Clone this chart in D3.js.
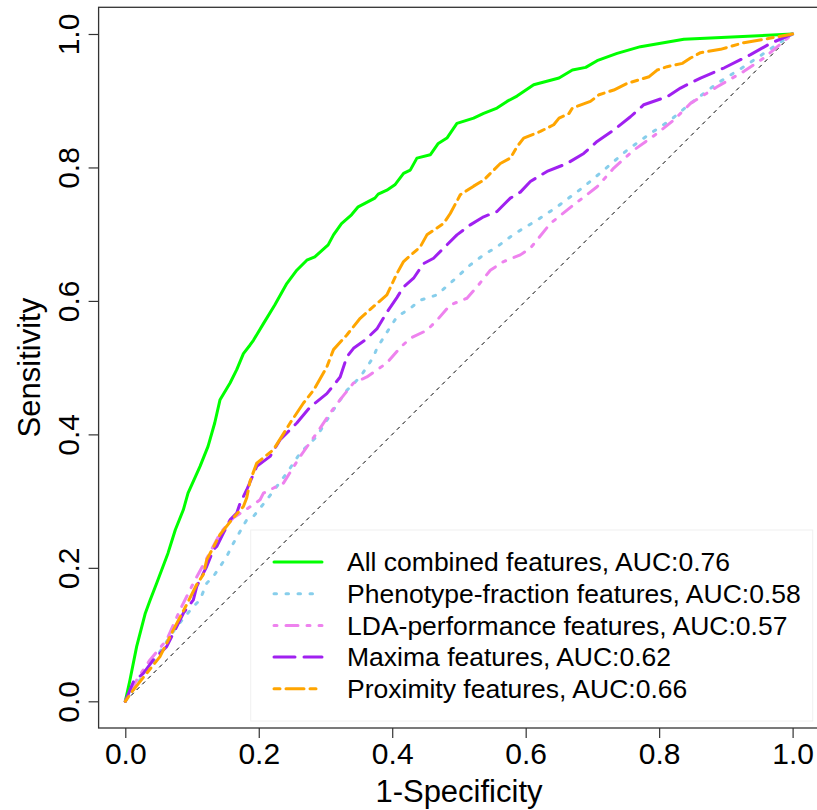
<!DOCTYPE html>
<html>
  <head>
    <meta charset="utf-8" />
    <title>ROC curves</title>
    <script src="https://d3js.org/d3.v7.min.js"></script>
    <style>
        body { margin:0; background:white; }
        text { font-family: "Liberation Sans", Arial, Helvetica, sans-serif; fill:black; }
    </style>
  </head>
  <body>
    <svg id="viz"></svg>

    <script>
    // legend labels
    var labels = [
      "All combined features, AUC:0.76",
      "Phenotype-fraction features, AUC:0.58",
      "LDA-performance features, AUC:0.57",
      "Maxima features, AUC:0.62",
      "Proximity features, AUC:0.66"
    ];

    // [1-specificity, sensitivity]
    var allCombined = [[0,0],[.007,.032],[.017,.082],[.030,.132],[.037,.151],[.047,.177],[.064,.222],[.075,.257],[.087,.287],[.094,.312],[.112,.352],[.124,.382],[.134,.417],[.142,.452],[.157,.477],[.167,.497],[.177,.521],[.187,.534],[.192,.541],[.207,.566],[.224,.594],[.242,.626],[.257,.646],[.272,.661],[.284,.666],[.304,.684],[.312,.699],[.324,.716],[.339,.729],[.349,.741],[.374,.754],[.379,.760],[.392,.766],[.404,.774],[.417,.791],[.427,.796],[.437,.814],[.457,.819],[.469,.836],[.482,.844],[.497,.866],[.522,.874],[.537,.881],[.557,.889],[.572,.899],[.587,.907],[.612,.924],[.650,.934],[.670,.946],[.690,.950],[.707,.960],[.737,.971],[.772,.981],[.837,.992],[1,1]];

    var phenotype = [[0,0],[.022,.032],[.047,.067],[.077,.112],[.102,.142],[.112,.152],[.122,.177],[.132,.187],[.152,.217],[.162,.237],[.182,.272],[.192,.277],[.212,.302],[.242,.342],[.262,.372],[.287,.397],[.312,.437],[.332,.466],[.352,.486],[.372,.516],[.377,.529],[.392,.553],[.407,.576],[.427,.589],[.442,.601],[.467,.609],[.492,.631],[.517,.654],[.537,.669],[.557,.681],[.577,.696],[.592,.706],[.617,.721],[.647,.741],[.687,.771],[.717,.796],[.752,.826],[.787,.851],[.817,.871],[.847,.896],[.887,.926],[.927,.951],[.957,.971],[1,1]];

    var ldaPerf = [[0,0],[.017,.032],[.037,.062],[.062,.092],[.082,.137],[.102,.177],[.122,.214],[.137,.242],[.142,.252],[.162,.275],[.182,.288],[.202,.302],[.207,.312],[.237,.327],[.262,.367],[.287,.402],[.307,.432],[.322,.452],[.342,.477],[.362,.486],[.392,.507],[.412,.530],[.427,.544],[.452,.556],[.467,.571],[.487,.594],[.512,.604],[.527,.621],[.547,.646],[.567,.659],[.592,.669],[.607,.679],[.637,.716],[.672,.744],[.707,.771],[.732,.799],[.762,.826],[.797,.851],[.822,.871],[.847,.896],[.887,.921],[.927,.944],[.957,.964],[1,1]];

    var maxima = [[0,0],[.012,.029],[.027,.042],[.042,.062],[.062,.082],[.072,.102],[.087,.132],[.102,.152],[.107,.172],[.117,.192],[.122,.202],[.132,.227],[.137,.232],[.147,.252],[.157,.272],[.167,.282],[.172,.297],[.182,.317],[.197,.352],[.217,.367],[.232,.392],[.257,.417],[.277,.441],[.302,.461],[.322,.486],[.332,.516],[.342,.529],[.359,.541],[.377,.558],[.392,.583],[.407,.605],[.417,.621],[.432,.634],[.447,.656],[.462,.664],[.477,.679],[.497,.699],[.517,.714],[.537,.726],[.557,.734],[.577,.754],[.592,.763],[.607,.779],[.632,.794],[.662,.806],[.687,.821],[.707,.839],[.732,.856],[.757,.876],[.777,.894],[.812,.906],[.832,.919],[.862,.934],[.897,.949],[.937,.969],[.967,.986],[1,1]];

    var proximity = [[0,0],[.012,.017],[.032,.042],[.052,.067],[.072,.107],[.092,.145],[.107,.175],[.117,.190],[.122,.212],[.142,.250],[.162,.275],[.177,.292],[.182,.305],[.187,.330],[.197,.357],[.222,.377],[.247,.417],[.267,.447],[.282,.466],[.302,.501],[.312,.527],[.332,.549],[.352,.574],[.377,.596],[.392,.609],[.407,.641],[.417,.659],[.442,.681],[.452,.699],[.477,.716],[.487,.731],[.502,.759],[.522,.772],[.537,.781],[.547,.791],[.562,.806],[.577,.814],[.587,.831],[.597,.844],[.622,.854],[.642,.864],[.650,.874],[.665,.881],[.670,.889],[.697,.899],[.710,.909],[.732,.916],[.752,.926],[.785,.936],[.797,.946],[.812,.951],[.835,.956],[.847,.964],[.862,.972],[.892,.977],[.927,.987],[.962,.993],[1,1]];

    var ticks = [0, 0.2, 0.4, 0.6, 0.8, 1.0];

    var series = [
      {name: labels[0], values: allCombined, color: "#00ff00", dash: null},
      {name: labels[1], values: phenotype, color: "#87ceeb", dash: "2.5,9.5"},
      {name: labels[2], values: ldaPerf, color: "#ee82ee", dash: "3,9,12,9"},
      {name: labels[3], values: maxima, color: "#a020f0", dash: "21,9"},
      {name: labels[4], values: proximity, color: "#ffa500", dash: "6,6,18,6"}
    ];

    var width = 817, height = 810;

    var svg = d3.select("#viz")
      .attr("width", width)
      .attr("height", height);

    svg.append("rect").attr("width", width).attr("height", height).attr("fill", "white");

    // R style: range padded 4% each side
    var x = d3.scaleLinear().domain([-0.04, 1.04]).range([98.6, 819.3]);
    var y = d3.scaleLinear().domain([-0.04, 1.04]).range([728, 7.3]);

    // axes
    var xAxis = svg.append("g").attr("transform", "translate(0," + y(-0.04) + ")")
      .call(d3.axisBottom(x).tickValues(ticks).tickSize(10).tickPadding(5).tickFormat(d3.format(".1f")));
    var yAxis = svg.append("g").attr("transform", "translate(" + x(-0.04) + ",0)")
      .call(d3.axisLeft(y).tickValues(ticks).tickSize(10).tickFormat(d3.format(".1f")));

    svg.selectAll(".domain").remove();
    svg.selectAll(".tick line").attr("stroke", "#333").attr("stroke-width", 1.2);
    xAxis.selectAll("text").attr("font-size", 30).attr("dy", null).attr("y", 36);
    yAxis.selectAll("text")
      .attr("font-size", 30)
      .attr("text-anchor", "middle")
      .attr("x", null).attr("dy", null)
      .attr("transform", "translate(-20,0) rotate(-90)");

    // plot box
    svg.append("rect")
      .attr("x", x(-0.04)).attr("y", y(1.04))
      .attr("width", x(1.04) - x(-0.04)).attr("height", y(-0.04) - y(1.04))
      .attr("fill", "none").attr("stroke", "#333").attr("stroke-width", 1.3);

    // legend (no fill, the diagonal runs over it)
    var lg = svg.append("g");
    lg.append("rect")
      .attr("x", 250.7).attr("y", 530).attr("width", 562).attr("height", 191)
      .attr("fill", "none").attr("stroke", "#f0f0f0");

    var rows = lg.selectAll("g.row").data(series).enter().append("g")
      .attr("transform", function(d, i) { return "translate(0," + (562 + i * 31.7) + ")"; });
    rows.append("line")
      .attr("x1", 274).attr("x2", 322)
      .attr("stroke", function(d) { return d.color; })
      .attr("stroke-width", 3)
      .attr("stroke-linecap", "round")
      .attr("stroke-dasharray", function(d) { return d.dash; });
    rows.append("text")
      .attr("x", 347).attr("y", 9.3)
      .attr("font-size", 26.5)
      .text(function(d) { return d.name; });

    // diagonal
    svg.append("line")
      .attr("x1", x(0)).attr("y1", y(0)).attr("x2", x(1)).attr("y2", y(1))
      .attr("stroke", "black").attr("stroke-width", 1).attr("stroke-dasharray", "4,4");

    var line = d3.line()
      .x(function(d) { return x(d[0]); })
      .y(function(d) { return y(d[1]); });

    svg.append("g").selectAll("path").data(series).enter().append("path")
      .attr("d", function(d) { return line(d.values); })
      .attr("fill", "none")
      .attr("stroke", function(d) { return d.color; })
      .attr("stroke-width", 3)
      .attr("stroke-linecap", "round")
      .attr("stroke-linejoin", "round")
      .attr("stroke-dasharray", function(d) { return d.dash; });

    // axis titles
    svg.append("text")
      .attr("x", x(0.5)).attr("y", 802)
      .attr("text-anchor", "middle").attr("font-size", 31)
      .text("1-Specificity");
    svg.append("text")
      .attr("transform", "translate(40," + y(0.5) + ") rotate(-90)")
      .attr("text-anchor", "middle").attr("font-size", 31)
      .text("Sensitivity");
    </script>
  </body>
</html>
